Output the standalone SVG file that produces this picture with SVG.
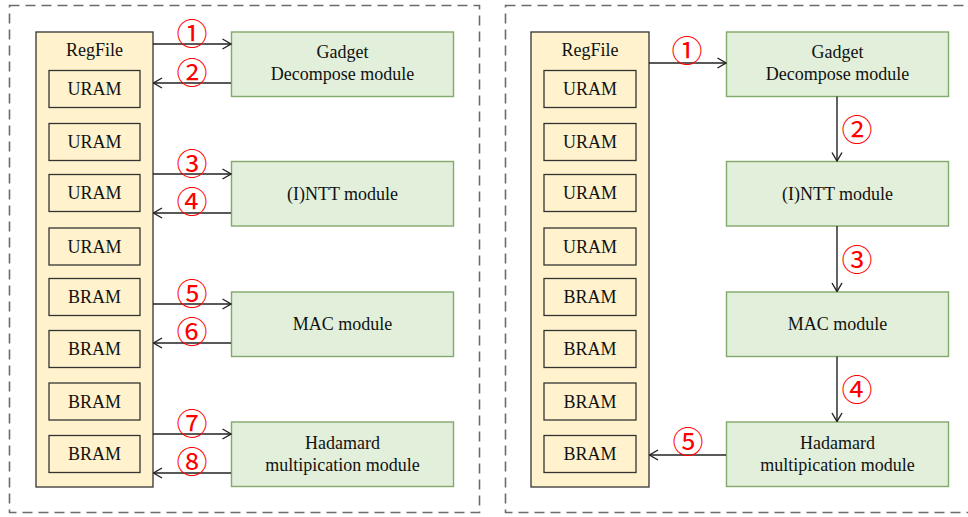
<svg xmlns="http://www.w3.org/2000/svg" width="968" height="517" viewBox="0 0 968 517">
<defs>
<marker id="ah" viewBox="0 0 10 12" refX="9.5" refY="6" markerWidth="10" markerHeight="12" markerUnits="userSpaceOnUse" orient="auto">
<path d="M1,1 L9.5,6 L1,11" fill="none" stroke="#222" stroke-width="1.4"/>
</marker>
<style>
.frame{fill:none;stroke:#6b6b6b;stroke-width:1.6;stroke-dasharray:10 6}
.reg{fill:#fff2cc;stroke:#333;stroke-width:1.3}
.mem{fill:#fff2cc;stroke:#333;stroke-width:1.3}
.mod{fill:#e2efda;stroke:#82a96a;stroke-width:1.4}
.t{font-family:"Liberation Serif","Times New Roman",serif;font-size:18px;fill:#111;text-anchor:middle;dominant-baseline:central}
.n{font-family:"Noto Sans CJK SC","DejaVu Sans",sans-serif;font-size:31px;fill:#ff0000;text-anchor:middle;dominant-baseline:central}
.c{fill:none;stroke:#222;stroke-width:1.4;marker-end:url(#ah)}
</style>
</defs>
<g id="frame-left"><rect class="frame" x="9.5" y="5.5" width="470" height="507"/></g>
<g id="frame-right"><rect class="frame" x="505.5" y="5.5" width="470" height="507"/></g>

<g id="regfile-left">
<rect class="reg" x="36" y="32" width="117" height="455"/>
<text class="t" x="94.5" y="50">RegFile</text>
<rect class="mem" x="49" y="70.5" width="91" height="37"/><text class="t" x="94.5" y="89">URAM</text>
<rect class="mem" x="49" y="123.5" width="91" height="37"/><text class="t" x="94.5" y="142">URAM</text>
<rect class="mem" x="49" y="174.5" width="91" height="37"/><text class="t" x="94.5" y="193">URAM</text>
<rect class="mem" x="49" y="228" width="91" height="37"/><text class="t" x="94.5" y="246.5">URAM</text>
<rect class="mem" x="49" y="278.5" width="91" height="37"/><text class="t" x="94.5" y="297">BRAM</text>
<rect class="mem" x="49" y="330.5" width="91" height="37"/><text class="t" x="94.5" y="349">BRAM</text>
<rect class="mem" x="49" y="383" width="91" height="37"/><text class="t" x="94.5" y="401.5">BRAM</text>
<rect class="mem" x="49" y="435.5" width="91" height="37"/><text class="t" x="94.5" y="454">BRAM</text>
</g>

<g id="gadget-left"><rect class="mod" x="231.5" y="32" width="222" height="64.5"/><text class="t" x="342.5" y="52">Gadget</text><text class="t" x="342.5" y="74">Decompose module</text></g>
<g id="ntt-left"><rect class="mod" x="231.5" y="161.5" width="222" height="64.5"/><text class="t" x="342.5" y="194">(I)NTT module</text></g>
<g id="mac-left"><rect class="mod" x="231.5" y="292" width="222" height="64.5"/><text class="t" x="342.5" y="324">MAC module</text></g>
<g id="hadamard-left"><rect class="mod" x="231.5" y="422" width="222" height="64.5"/><text class="t" x="342.5" y="443">Hadamard</text><text class="t" x="342.5" y="465">multipication module</text></g>

<g id="regfile-right">
<rect class="reg" x="531" y="32" width="118" height="455"/>
<text class="t" x="590" y="50">RegFile</text>
<rect class="mem" x="544" y="70.5" width="92" height="37"/><text class="t" x="590" y="89">URAM</text>
<rect class="mem" x="544" y="123.5" width="92" height="37"/><text class="t" x="590" y="142">URAM</text>
<rect class="mem" x="544" y="174.5" width="92" height="37"/><text class="t" x="590" y="193">URAM</text>
<rect class="mem" x="544" y="228" width="92" height="37"/><text class="t" x="590" y="246.5">URAM</text>
<rect class="mem" x="544" y="278.5" width="92" height="37"/><text class="t" x="590" y="297">BRAM</text>
<rect class="mem" x="544" y="330.5" width="92" height="37"/><text class="t" x="590" y="349">BRAM</text>
<rect class="mem" x="544" y="383" width="92" height="37"/><text class="t" x="590" y="401.5">BRAM</text>
<rect class="mem" x="544" y="435.5" width="92" height="37"/><text class="t" x="590" y="454">BRAM</text>
</g>

<g id="gadget-right"><rect class="mod" x="726.5" y="32" width="222" height="64.5"/><text class="t" x="837.5" y="52">Gadget</text><text class="t" x="837.5" y="74">Decompose module</text></g>
<g id="ntt-right"><rect class="mod" x="726.5" y="161.5" width="222" height="64.5"/><text class="t" x="837.5" y="194">(I)NTT module</text></g>
<g id="mac-right"><rect class="mod" x="726.5" y="292" width="222" height="64.5"/><text class="t" x="837.5" y="324">MAC module</text></g>
<g id="hadamard-right"><rect class="mod" x="726.5" y="422" width="222" height="64.5"/><text class="t" x="837.5" y="443">Hadamard</text><text class="t" x="837.5" y="465">multipication module</text></g>

<g id="connectors">
<path class="c" d="M153,44 H231"/>
<path class="c" d="M231,83 H153.5"/>
<path class="c" d="M153,174 H231"/>
<path class="c" d="M231,213 H153.5"/>
<path class="c" d="M153,304 H231"/>
<path class="c" d="M231,343 H153.5"/>
<path class="c" d="M153,434 H231"/>
<path class="c" d="M231,473 H153.5"/>
<path class="c" d="M649,63 H726"/>
<path class="c" d="M837,96.5 V161"/>
<path class="c" d="M837,226 V291.5"/>
<path class="c" d="M837,356.5 V421.5"/>
<path class="c" d="M726,455 H649.5"/>
</g>
<g id="labels">
<text class="n" x="192" y="31">①</text>
<text class="n" x="192" y="70">②</text>
<text class="n" x="192" y="161">③</text>
<text class="n" x="192" y="199">④</text>
<text class="n" x="192" y="291">⑤</text>
<text class="n" x="192" y="329">⑥</text>
<text class="n" x="192" y="421">⑦</text>
<text class="n" x="192" y="459">⑧</text>
<text class="n" x="687" y="48">①</text>
<text class="n" x="857" y="127">②</text>
<text class="n" x="857" y="257">③</text>
<text class="n" x="857" y="387">④</text>
<text class="n" x="688" y="439">⑤</text>
</g>
</svg>
